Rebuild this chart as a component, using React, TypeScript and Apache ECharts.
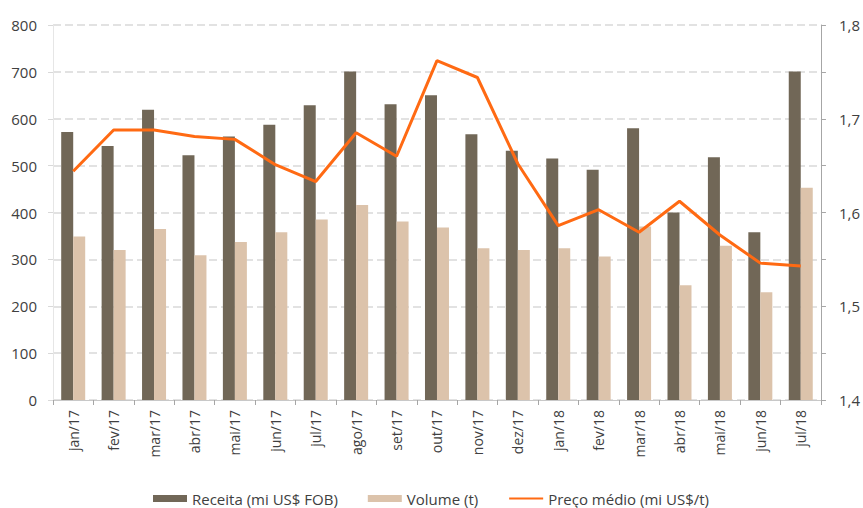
import React, { useEffect, useRef } from "react";
import * as echarts from "echarts";

const categories = [
  "jan/17", "fev/17", "mar/17", "abr/17", "mai/17", "jun/17", "jul/17", "ago/17", "set/17",
  "out/17", "nov/17", "dez/17", "jan/18", "fev/18", "mar/18", "abr/18", "mai/18", "jun/18", "jul/18",
];
const receita = [572, 542, 619, 522, 562, 587, 629, 701, 631, 650, 567, 532, 515, 491, 580, 400, 518, 358, 701];
const volume = [349, 320, 365, 309, 337, 358, 385, 416, 381, 368, 324, 320, 324, 306, 370, 245, 329, 230, 453];
const preco = [1.644, 1.688, 1.688, 1.681, 1.678, 1.651, 1.633, 1.685, 1.66, 1.762, 1.744, 1.652, 1.586, 1.603, 1.579, 1.612, 1.576, 1.546, 1.543];
const leftTicks = { min: 0, max: 800, interval: 100 };
const rightTicks = { min: 1.4, max: 1.8, interval: 0.05 };

const FONT = "'Open Sans', 'Noto Sans', sans-serif";
const TEXT = "#404040";

export default function App() {
  const ref = useRef<HTMLDivElement>(null);
  useEffect(() => {
    if (!ref.current) return;
    const chart = echarts.init(ref.current, undefined, { renderer: "svg" });
    chart.setOption({
      animation: false,
      backgroundColor: "#ffffff",
      textStyle: { fontFamily: FONT },
      grid: { left: 53, right: 41, top: 25, bottom: 108, containLabel: false },
      legend: {
        left: 148,
        top: 486,
        itemWidth: 34,
        itemHeight: 7,
        itemGap: 30,
        textStyle: { fontFamily: FONT, fontSize: 15, color: TEXT },
        data: [
          { name: "Receita (mi US$ FOB)", icon: "rect" },
          { name: "Volume (t)", icon: "rect" },
          { name: "Preço médio (mi US$/t)", itemStyle: { opacity: 0 } },
        ],
      },
      xAxis: {
        type: "category",
        data: categories,
        boundaryGap: true,
        axisLine: { show: true, lineStyle: { color: "#c8c8c8", width: 1 } },
        axisTick: { show: true, alignWithLabel: false, length: 5, lineStyle: { color: "#a6a6a6" } },
        axisLabel: {
          rotate: 90,
          interval: 0,
          fontFamily: FONT,
          fontSize: 14,
          color: TEXT,
          margin: 10,
        },
      },
      yAxis: [
        {
          type: "value",
          min: leftTicks.min,
          max: leftTicks.max,
          interval: leftTicks.interval,
          axisLine: { show: true, lineStyle: { color: "#e6e6e6" } },
          axisTick: { show: true, length: 5, lineStyle: { color: "#d9d9d9" } },
          axisLabel: { fontFamily: FONT, fontSize: 15, color: TEXT, margin: 16 },
          splitLine: { show: true, lineStyle: { color: "#d9d9d9", type: [8, 4], width: 1.5 } },
        },
        {
          type: "value",
          min: rightTicks.min,
          max: rightTicks.max,
          interval: rightTicks.interval,
          position: "right",
          axisLine: { show: true, lineStyle: { color: "#a6a6a6" } },
          axisTick: { show: true, length: 5, lineStyle: { color: "#a6a6a6" } },
          axisLabel: {
            fontFamily: FONT,
            fontSize: 15,
            color: TEXT,
            margin: 18,
            formatter: (v: number) => {
              const r = Math.round(v * 100);
              return r % 10 === 0 ? (r / 100).toFixed(1).replace(".", ",") : "";
            },
          },
          splitLine: { show: false },
        },
      ],
      series: [
        {
          name: "Receita (mi US$ FOB)",
          type: "bar",
          data: receita,
          barWidth: 12,
          barGap: "0%",
          itemStyle: { color: "#716757" },
        },
        {
          name: "Volume (t)",
          type: "bar",
          data: volume,
          barWidth: 12,
          barGap: "0%",
          itemStyle: { color: "#dcc3ab" },
        },
        {
          name: "Preço médio (mi US$/t)",
          type: "line",
          yAxisIndex: 1,
          data: preco,
          symbol: "none",
          lineStyle: { color: "#ff6a13", width: 3 },
          itemStyle: { color: "#ff6a13" },
        },
      ],
    });
    return () => chart.dispose();
  }, []);
  return (
    <div
      ref={ref}
      style={{ position: "fixed", left: 0, top: 0, width: 863, height: 508, background: "#fff" }}
    />
  );
}
